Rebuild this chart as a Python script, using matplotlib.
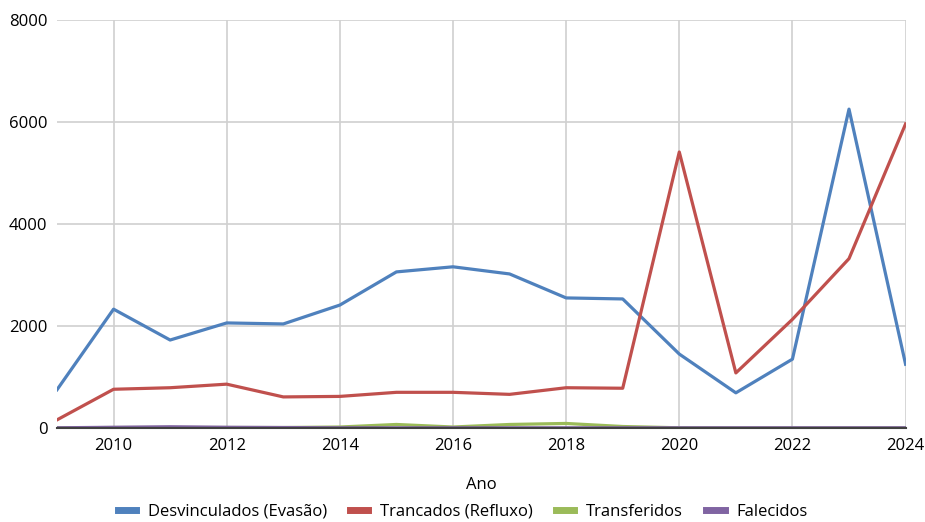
import numpy as np
import matplotlib
matplotlib.use('Agg')
import matplotlib.pyplot as plt

anos = list(range(2009, 2025))
desvinculados = [750, 2330, 1725, 2060, 2040, 2410, 3060, 3160, 3020, 2550, 2530, 1450, 690, 1350, 6250, 1250]
trancados = [160, 760, 790, 860, 610, 620, 700, 700, 660, 790, 780, 5410, 1080, 2130, 3320, 5960]
transferidos = [5, 10, 10, 10, 10, 20, 70, 20, 70, 90, 30, 5, 0, 0, 0, 0]
falecidos = [5, 15, 25, 15, 10, 5, 5, 5, 5, 5, 5, 5, 5, 5, 5, 5]

plt.rcParams['font.family'] = ['Open Sans', 'DejaVu Sans']

fig = plt.figure(figsize=(9.25, 5.22), dpi=100)
ax = fig.add_axes([0.0616, 0.18, 0.979 - 0.0616, 0.782])

ax.plot(anos, desvinculados, color='#4F81BD', lw=2.3, label='Desvinculados (Evasão)')
ax.plot(anos, trancados, color='#C0504D', lw=2.3, label='Trancados (Refluxo)')
ax.plot(anos, transferidos, color='#9BBB59', lw=2.3, label='Transferidos')
ax.plot(anos, falecidos, color='#8064A2', lw=2.3, label='Falecidos')

ax.set_xlim(2009, 2024)
ax.set_ylim(0, 8000)
ax.set_xticks(range(2010, 2025, 2))
ax.set_yticks(range(0, 8001, 2000))
ax.grid(True, color='#D0D0D0', lw=1.2)
ax.set_axisbelow(True)
for s in ['top', 'right', 'left']:
    ax.spines[s].set_visible(False)
ax.spines['bottom'].set_color('#404040')
ax.spines['bottom'].set_linewidth(1.5)
ax.tick_params(length=0, labelsize=12, pad=7)
ax.set_xlabel('Ano', fontsize=12, labelpad=17)

leg = fig.legend(loc='center', bbox_to_anchor=(0.5, 1 - 512 / 522), ncol=4, frameon=False,
                 fontsize=12, handlelength=1.1, columnspacing=1.4, handletextpad=0.7)
for h in leg.get_lines():
    h.set_linewidth(5)

fig.savefig('out.png', dpi=100)
